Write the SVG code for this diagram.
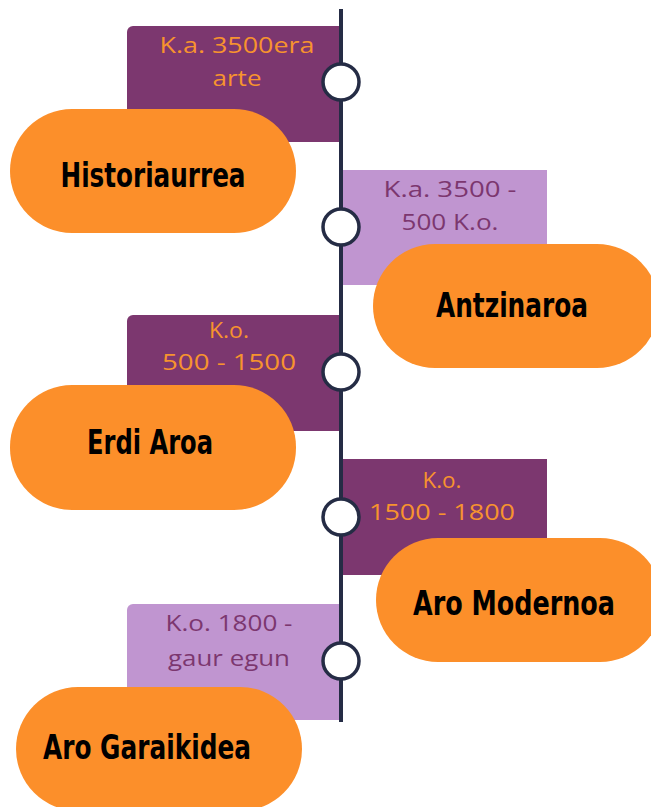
<svg xmlns="http://www.w3.org/2000/svg" width="651" height="807" viewBox="0 0 651 807">
<style>
.dk{fill:#7C376F}
.lt{fill:#C095D0}
.pill{fill:#FC8F2A}
.dt{font-family:"Open Sans","Lato",sans-serif;font-size:21px;text-anchor:middle}
.dt1{fill:#F7932E}
.dt2{fill:#7C376F}
.tt{font-family:"DejaVu Sans Condensed","DejaVu Sans",sans-serif;font-stretch:condensed;font-weight:bold;font-size:34px;fill:#000;text-anchor:middle}
.dot{fill:#fff;stroke:#252C45;stroke-width:3.5}
</style>
<rect width="651" height="807" fill="#fff"/>
<g id="node1">
<path class="dk" d="M133 26H341V142H127V32A6 6 0 0 1 133 26Z"/>
<text class="dt dt1" x="237" y="53" textLength="155" lengthAdjust="spacingAndGlyphs">K.a. 3500era</text>
<text class="dt dt1" x="237" y="86" textLength="49" lengthAdjust="spacingAndGlyphs">arte</text>
</g>
<g id="node2">
<rect class="lt" x="341" y="170" width="206" height="115"/>
<text class="dt dt2" x="450" y="197" textLength="133" lengthAdjust="spacingAndGlyphs">K.a. 3500 -</text>
<text class="dt dt2" x="450" y="230" textLength="97" lengthAdjust="spacingAndGlyphs">500 K.o.</text>
</g>
<g id="node3">
<path class="dk" d="M133 315H341V431H127V321A6 6 0 0 1 133 315Z"/>
<text class="dt dt1" x="229" y="338" textLength="40" lengthAdjust="spacingAndGlyphs">K.o.</text>
<text class="dt dt1" x="229" y="370" textLength="134" lengthAdjust="spacingAndGlyphs">500 - 1500</text>
</g>
<g id="node4">
<rect class="dk" x="341" y="459" width="206" height="116"/>
<text class="dt dt1" x="442" y="488" textLength="39" lengthAdjust="spacingAndGlyphs">K.o.</text>
<text class="dt dt1" x="442" y="520" textLength="146" lengthAdjust="spacingAndGlyphs">1500 - 1800</text>
</g>
<g id="node5">
<path class="lt" d="M133 604H341V720H127V610A6 6 0 0 1 133 604Z"/>
<text class="dt dt2" x="229" y="631" textLength="127" lengthAdjust="spacingAndGlyphs">K.o. 1800 -</text>
<text class="dt dt2" x="229" y="666" textLength="122" lengthAdjust="spacingAndGlyphs">gaur egun</text>
</g>
<g id="connectors">
<line x1="341" y1="9" x2="341" y2="722" stroke="#252C45" stroke-width="4"/>
<circle class="dot" cx="341" cy="82" r="18"/>
<circle class="dot" cx="341" cy="227" r="18"/>
<circle class="dot" cx="341" cy="372" r="18"/>
<circle class="dot" cx="341" cy="517" r="18"/>
<circle class="dot" cx="341" cy="661" r="18"/>
</g>
<g id="pill1">
<rect class="pill" x="10" y="109" width="286" height="124" rx="62"/>
<text class="tt" x="153" y="187" textLength="185" lengthAdjust="spacingAndGlyphs">Historiaurrea</text>
</g>
<g id="pill2">
<rect class="pill" x="373" y="244" width="286" height="124" rx="62"/>
<text class="tt" x="512" y="317" textLength="152" lengthAdjust="spacingAndGlyphs">Antzinaroa</text>
</g>
<g id="pill3">
<rect class="pill" x="10" y="385" width="286" height="125" rx="62"/>
<text class="tt" x="150" y="454" textLength="126" lengthAdjust="spacingAndGlyphs">Erdi Aroa</text>
</g>
<g id="pill4">
<rect class="pill" x="376" y="538" width="286" height="124" rx="62"/>
<text class="tt" x="514" y="615" textLength="202" lengthAdjust="spacingAndGlyphs">Aro Modernoa</text>
</g>
<g id="pill5">
<rect class="pill" x="16" y="687" width="286" height="124" rx="62"/>
<text class="tt" x="147" y="759" textLength="208" lengthAdjust="spacingAndGlyphs">Aro Garaikidea</text>
</g>
</svg>
